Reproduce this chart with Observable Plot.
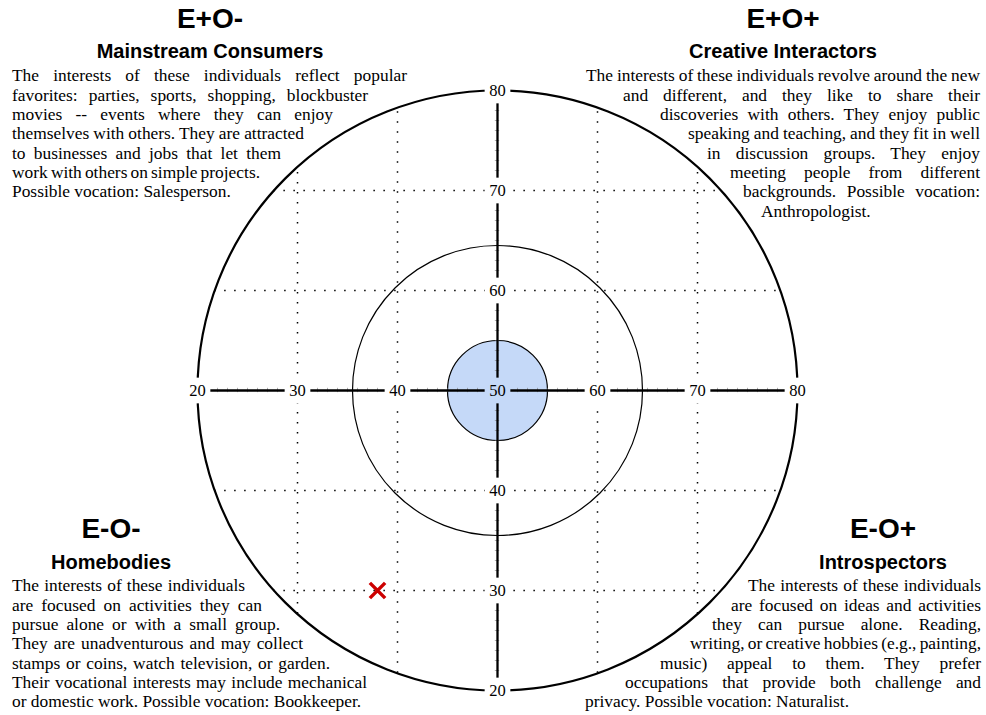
<!DOCTYPE html>
<html><head><meta charset="utf-8">
<script src="https://cdn.jsdelivr.net/npm/d3@7"></script>
<script src="https://cdn.jsdelivr.net/npm/@observablehq/plot@0.6"></script>
<style>
body{margin:0;background:#fff;}
#wrap{position:relative;width:986px;height:715px;overflow:hidden;background:#fff;}
#wrap svg{position:absolute;left:0;top:0;}
.h1,.h2,.ln{position:absolute;white-space:nowrap;line-height:1;color:#000;}
.h1{font-family:"Liberation Sans",Arial,sans-serif;font-weight:bold;font-size:28px;width:400px;text-align:center;}
.h2{font-family:"Liberation Sans",Arial,sans-serif;font-weight:bold;font-size:20px;width:400px;text-align:center;}
.ln{font-family:"Liberation Serif","Times New Roman",serif;font-size:17.4px;}
</style></head><body><div id="wrap"></div>
<script>
// ---- chart values ----
const axisValues = [20, 30, 40, 60, 70, 80];
const centerValue = 50;
const gridValues = [30, 40, 60, 70];
const outerRadius = 30;
const innerRadius = 14.5;
const coreRadius = 5;
const markerX = [38];
const markerY = [30];

// ---- quadrant texts ----
const quadCodes = ["E+O-", "E+O+", "E-O-", "E-O+"];
const quadNames = ["Mainstream Consumers", "Creative Interactors", "Homebodies", "Introspectors"];
const textMainstream = [
  "The interests of these individuals reflect popular",
  "favorites: parties, sports, shopping, blockbuster",
  "movies -- events where they can enjoy",
  "themselves with others. They are attracted",
  "to businesses and jobs that let them",
  "work with others on simple projects.",
  "Possible vocation: Salesperson."
];
const textCreative = [
  "The interests of these individuals revolve around the new",
  "and different, and they like to share their",
  "discoveries with others. They enjoy public",
  "speaking and teaching, and they fit in well",
  "in discussion groups. They enjoy",
  "meeting people from different",
  "backgrounds. Possible vocation:",
  "Anthropologist."
];
const textHomebodies = [
  "The interests of these individuals",
  "are focused on activities they can",
  "pursue alone or with a small group.",
  "They are unadventurous and may collect",
  "stamps or coins, watch television, or garden.",
  "Their vocational interests may include mechanical",
  "or domestic work. Possible vocation: Bookkeeper."
];
const textIntrospectors = [
  "The interests of these individuals",
  "are focused on ideas and activities",
  "they can pursue alone. Reading,",
  "writing, or creative hobbies (e.g., painting,",
  "music) appeal to them. They prefer",
  "occupations that provide both challenge and",
  "privacy. Possible vocation: Naturalist."
];
const quadTexts = [textMainstream, textCreative, textHomebodies, textIntrospectors];

// ---- layout (pixels) ----
const W = 986, H = 715, CX = 497, CY = 390, PX = 10;
const quadLayout = [
  {cx: 210, h1: 29, h2: 58, top: 82, lefts: [12,12,12,12,12,12,12], rights: [407,368,333,304,281,260,null]},
  {cx: 783, h1: 29, h2: 58, top: 82, lefts: [586,623,660,688,707,730,743,761], rights: [980,980,980,980,980,980,980,null]},
  {cx: 111, h1: 539, h2: 569, top: 592, lefts: [12,12,12,12,12,12,12], rights: [245,262,280,303,330,367,null]},
  {cx: 883, h1: 539, h2: 569, top: 592, lefts: [748,731,712,690,660,625,585], rights: [981,981,981,981,981,981,null]}
];
const LINE = 19.3, FS = 17.4;

// ---- derived geometry ----
const rings = [outerRadius, innerRadius].map(r => ({x: centerValue, y: centerValue, r}));
const core = [{x: centerValue, y: centerValue, r: coreRadius}];
const grid = gridValues.map(g => ({g, h: Math.sqrt(outerRadius * outerRadius - (g - centerValue) ** 2)}));
const labels = [
  ...axisValues.map(v => ({x: v, y: centerValue, t: v})),
  ...axisValues.map(v => ({x: centerValue, y: v, t: v}))
];
const centerLabel = [{x: centerValue, y: centerValue, t: centerValue}];
const minor = d3.range(axisValues[0], axisValues[axisValues.length - 1] + 1).filter(v => v !== centerValue);
const marker = markerX.map((x, i) => ({x, y: markerY[i]}));
const lo = axisValues[0], hi = axisValues[axisValues.length - 1];

const chart = Plot.plot({
  width: W, height: H, margin: 0,
  style: {background: "white"},
  x: {domain: [centerValue - CX / PX, centerValue + (W - CX) / PX], axis: null},
  y: {domain: [centerValue - (H - CY) / PX, centerValue + CY / PX], axis: null},
  r: {type: "linear", domain: [0, outerRadius], range: [0, outerRadius * PX]},
  marks: [
    Plot.ruleX(grid, {x: "g", y1: d => centerValue - d.h, y2: d => centerValue + d.h, stroke: "#000", strokeWidth: 1.5, strokeDasharray: "1.5,8.5"}),
    Plot.ruleY(grid, {y: "g", x1: d => centerValue - d.h, x2: d => centerValue + d.h, stroke: "#000", strokeWidth: 1.5, strokeDasharray: "1.5,8.5"}),
    Plot.dot([rings[1]], {x: "x", y: "y", r: "r", stroke: "#000", strokeWidth: 1.2, fill: "none"}),
    Plot.dot(core, {x: "x", y: "y", r: "r", stroke: "#000", strokeWidth: 1.2, fill: "#c5d9f8"}),
    Plot.ruleX(minor, {x: d => d, y1: centerValue - 0.22, y2: centerValue + 0.22, stroke: "#777", strokeWidth: 0.6}),
    Plot.ruleY(minor, {y: d => d, x1: centerValue - 0.22, x2: centerValue + 0.22, stroke: "#777", strokeWidth: 0.6}),
    Plot.ruleY([centerValue], {x1: lo, x2: hi, stroke: "#000", strokeWidth: 2.3}),
    Plot.ruleX([centerValue], {y1: lo, y2: hi, stroke: "#000", strokeWidth: 2.3}),
    Plot.dot([rings[0]], {x: "x", y: "y", r: "r", stroke: "#000", strokeWidth: 2.2, fill: "none"}),
    Plot.dot(labels, {x: "x", y: "y", symbol: "square", r: 14.5, fill: "white", stroke: "none"}),
    Plot.dot(centerLabel, {x: "x", y: "y", symbol: "square", r: 14.5, fill: "#c5d9f8", stroke: "none"}),
    Plot.text(labels, {x: "x", y: "y", text: d => String(d.t), fontFamily: "Liberation Serif", fontSize: 16.5, fill: "#000"}),
    Plot.text(centerLabel, {x: "x", y: "y", text: d => String(d.t), fontFamily: "Liberation Serif", fontSize: 16.5, fill: "#000"}),
    Plot.dot(marker, {x: "x", y: "y", symbol: "times", r: 7, stroke: "#cc0000", strokeWidth: 3.5})
  ]
});

const wrap = document.getElementById("wrap");
wrap.appendChild(chart);

function addHeading(cls, text, cx, baseline, fs) {
  const d = document.createElement("div");
  d.className = cls;
  d.textContent = text;
  d.style.left = (cx - 200) + "px";
  d.style.top = (baseline - 0.8465 * fs) + "px";
  wrap.appendChild(d);
}
function addLine(text, left, right, baseline) {
  const d = document.createElement("div");
  d.className = "ln";
  d.textContent = text;
  d.style.left = left + "px";
  d.style.top = (baseline - 0.8375 * FS) + "px";
  wrap.appendChild(d);
  if (right != null) {
    const nat = d.getBoundingClientRect().width;
    const spaces = (text.match(/ /g) || []).length;
    if (spaces) d.style.wordSpacing = ((right - left - nat) / spaces) + "px";
  }
}
quadLayout.forEach((L, i) => {
  addHeading("h1", quadCodes[i], L.cx, L.h1, 28);
  addHeading("h2", quadNames[i], L.cx, L.h2, 20);
  quadTexts[i].forEach((t, j) => addLine(t, L.lefts[j], L.rights[j], L.top + j * LINE));
});
</script></body></html>
